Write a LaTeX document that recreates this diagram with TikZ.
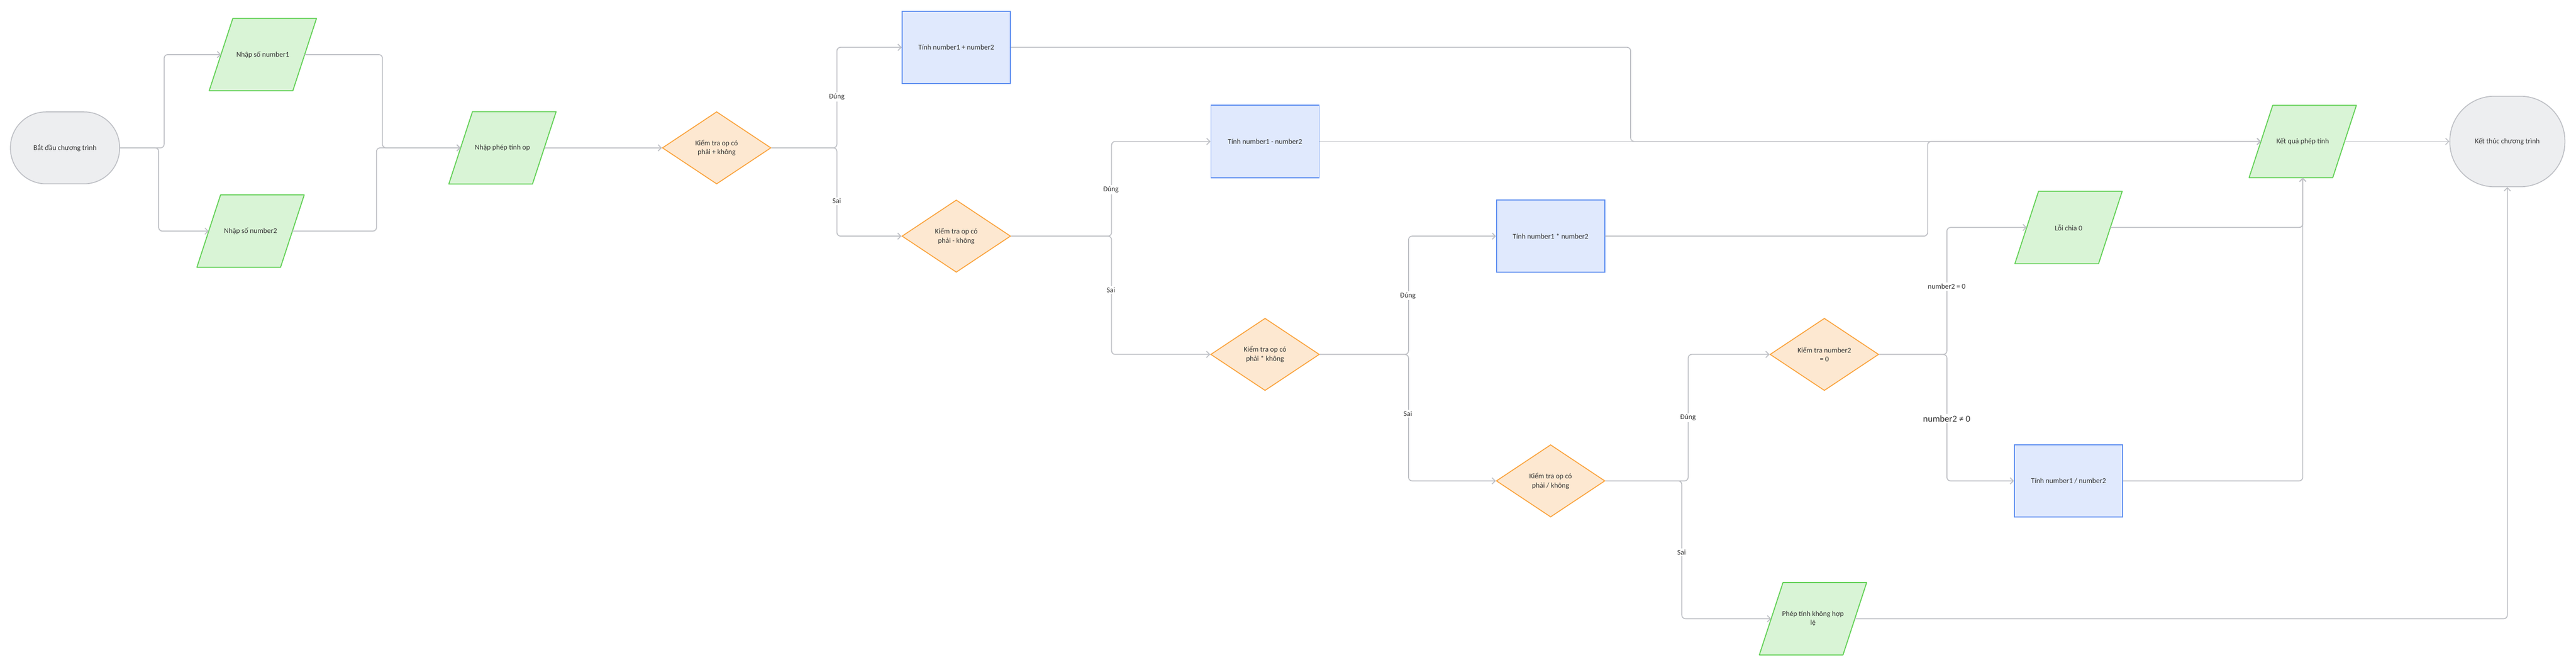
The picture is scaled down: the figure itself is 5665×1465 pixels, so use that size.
\documentclass[tikz,border=0pt]{standalone}
\usepackage{fontspec}
\setmainfont{Carlito}
\usetikzlibrary{shapes.geometric,arrows.meta,calc}
\definecolor{linec}{RGB}{190,192,197}
\definecolor{termfill}{RGB}{237,238,240}
\definecolor{termdraw}{RGB}{190,192,197}
\definecolor{iofill}{RGB}{217,244,214}
\definecolor{iodraw}{RGB}{100,209,88}
\definecolor{procfill}{RGB}{224,233,253}
\definecolor{procdraw}{RGB}{92,141,240}
\definecolor{decfill}{RGB}{253,232,209}
\definecolor{decdraw}{RGB}{250,163,60}
\definecolor{textc}{RGB}{51,51,51}
\tikzset{
  base/.style={font=\fontsize{16}{20}\selectfont, text=textc, align=center, inner sep=0pt},
  term/.style={base, rectangle, draw=termdraw, fill=termfill, line width=2pt},
  proc/.style={base, rectangle, draw=procdraw, fill=procfill, line width=2pt, minimum width=238, minimum height=159},
  dec/.style={base, diamond, draw=decdraw, fill=decfill, line width=2pt, minimum width=239, minimum height=159, aspect=1.5},
  iotext/.style={base, minimum width=236, minimum height=159},
  ioshape/.style={draw=iodraw, fill=iofill, line width=2.2pt, line join=round},
  conn/.style={draw=linec, line width=2pt, rounded corners=8pt, -{Straight Barb[length=7pt,width=14pt,line width=2pt]}},
  lbl/.style={base, fill=white, inner sep=3pt},
}
\newcommand\mypara[3]{%
  \filldraw[ioshape] ($(#2)+(-66,-79.5)$) -- ($(#2)+(118,-79.5)$) -- ($(#2)+(66,79.5)$) -- ($(#2)+(-118,79.5)$) -- cycle;
  \node[iotext] (#1) at (#2) {#3};
  \coordinate (#1-l) at ($(#1.center)+(-92,0)$);
  \coordinate (#1-r) at ($(#1.center)+(92,0)$);
}
\begin{document}
\begin{tikzpicture}[x=1pt,y=-1pt]
\fill[white] (0,0) rectangle (5665,1465);
\useasboundingbox (0,0) rectangle (5665,1465);

% nodes
\node[term, minimum width=240, minimum height=158, rounded corners=78pt] (start) at (143,325) {Bắt đầu chương trình};
\mypara{in1}{578,120}{Nhập số number1}
\mypara{in2}{551,508}{Nhập số number2}
\mypara{op}{1105,325}{Nhập phép tính op}
\node[dec] (d1) at (1576,325) {Kiểm tra op có\\phải + không};
\node[proc] (plus) at (2103,104) {Tính number1 + number2};
\node[dec] (d2) at (2103,519) {Kiểm tra op có\\phải - không};
\node[proc] (minus) at (2782,311) {Tính number1 - number2};
\node[dec] (d3) at (2782,779) {Kiểm tra op có\\phải * không};
\node[proc] (mul) at (3410,519) {Tính number1 * number2};
\node[dec] (d4) at (3410,1057) {Kiểm tra op có\\phải / không};
\node[dec] (d5) at (4012,779) {Kiểm tra number2\\= 0};
\mypara{err}{4549,500}{Lỗi chia 0}
\node[proc] (div) at (4549,1057) {Tính number1 / number2};
\mypara{inv}{3987,1360}{Phép tính không hợp\\lệ}
\mypara{res}{5064,311}{Kết quả phép tính}
\node[term, minimum width=253, minimum height=199, rounded corners=98pt] (end) at (5514,311) {Kết thúc chương trình};

% connectors
\draw[conn] (start.east) -- ++(97,0) |- (in1-l);
\draw[conn] (start.east) -- ++(85,0) |- (in2-l);
\draw[conn] (in1-r) -- ++(171,0) |- (op-l);
\draw[conn] (in2-r) -- ++(185,0) |- (op-l);
\draw[conn] (op-r) -- (d1.west);
\draw[conn] (d1.east) -- ++(144,0) |- (plus.west);
\draw[conn] (d1.east) -- ++(144,0) |- (d2.west);
\draw[conn] (d2.east) -- ++(221,0) |- (minus.west);
\draw[conn] (d2.east) -- ++(221,0) |- (d3.west);
\draw[conn] (d3.east) -- ++(195,0) |- (mul.west);
\draw[conn] (d3.east) -- ++(195,0) |- (d4.west);
\draw[conn] (d4.east) -- ++(182,0) |- (d5.west);
\draw[conn] (d4.east) -- ++(168,0) |- (inv-l);
\draw[conn] (d5.east) -- ++(149,0) |- (err-l);
\draw[conn] (d5.east) -- ++(149,0) |- (div.west);
\draw[conn] (plus.east) -- ++(1363,0) |- (res-l);
\draw[conn] (minus.east) -- (res-l);
\draw[conn] (mul.east) -- ++(709,0) |- (res-l);
\draw[conn] (err-r) -| (res.south);
\draw[conn] (div.east) -| (res.south);
\draw[conn] (res-r) -- (end.west);
\draw[conn] (inv-r) -| (end.south);

% labels
\node[lbl] (t1) at (1840,213) {Đúng};
\node[lbl] (f1) at (1840,442) {Sai};
\node[lbl] (t2) at (2443,417) {Đúng};
\node[lbl] (f2) at (2443,637) {Sai};
\node[lbl] (t3) at (3096,650) {Đúng};
\node[lbl] (f3) at (3096,909) {Sai};
\node[lbl] (t4) at (3712,918) {Đúng};
\node[lbl] (f4) at (3698,1214) {Sai};
\node[lbl] (z1) at (4281,630) {number2 = 0};
\node[lbl, font=\fontsize{20}{24}\selectfont] (z2) at (4281,920) {number2 ≠ 0};
\end{tikzpicture}
\end{document}
